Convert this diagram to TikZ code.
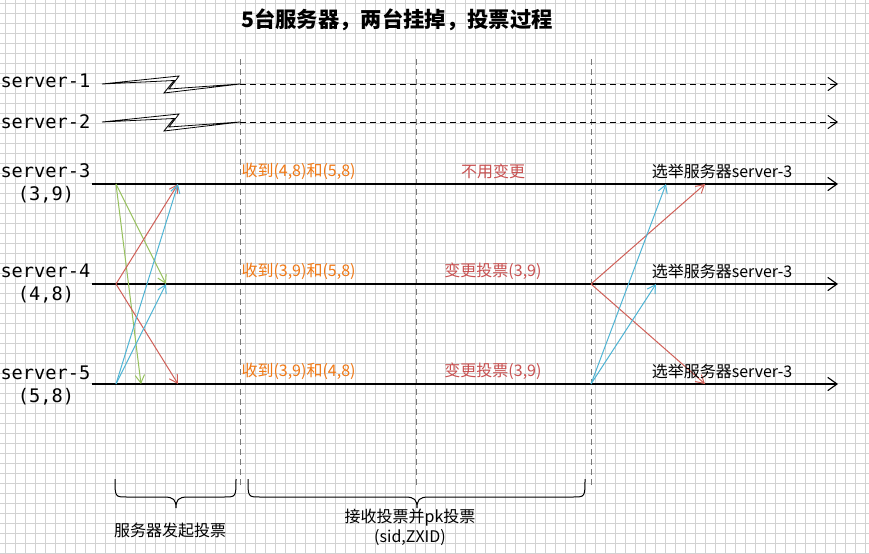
\documentclass[tikz,border=0pt]{standalone}
\usepackage{fontspec}
\setmainfont{Noto Sans CJK SC}
\newfontfamily\srvfont{DejaVu Sans Mono}
\usetikzlibrary{arrows.meta}

\definecolor{gridgray}{RGB}{210,210,210}
\definecolor{phasegray}{RGB}{120,120,120}
\definecolor{votegreen}{RGB}{151,193,93}
\definecolor{votered}{RGB}{208,96,88}
\definecolor{voteblue}{RGB}{78,180,212}
\definecolor{recvorange}{RGB}{240,120,20}
\definecolor{changered}{RGB}{200,80,80}

\tikzset{every picture/.style={line width=0.75pt}}

\begin{document}
\begin{tikzpicture}[x=0.75pt,y=0.75pt,yscale=-1,xscale=1,
  gridline/.style={draw=gridgray,line width=0.6pt},
  lifeline/.style={draw=black,line width=0.85pt,-{Straight Barb[length=7pt,width=10pt]}},
  deadline/.style={lifeline,line width=0.75pt,dash pattern=on 4.5pt off 3pt},
  phaseline/.style={draw=phasegray,dash pattern=on 4.5pt off 3pt},
  vote/.style={line width=0.75pt,-{Straight Barb[length=6pt,width=7pt]}},
  srvtext/.style={inner sep=0pt,font=\srvfont\fontsize{14}{16}\selectfont},
  recvtext/.style={inner sep=0pt,anchor=west,text=recvorange,font=\fontsize{12}{14}\selectfont},
  changetext/.style={inner sep=0pt,text=changered,font=\fontsize{12}{14}\selectfont},
  electtext/.style={inner sep=0pt,font=\fontsize{12}{14}\selectfont},
  phasetext/.style={inner sep=0pt,align=center,font=\fontsize{12}{15}\selectfont},
  bolt/.style={draw=black,fill=white,line width=0.6pt,line join=miter}]

%set diagram left start at 0, and has height of 554
\useasboundingbox (0,0) rectangle (869,554);
\fill[white] (0,0) rectangle (869,554);
\draw[gridline,shift={(5,3)}] (-10,-10) grid[step=10] (870,560);

% Title
\node[inner sep=0pt,font=\fontsize{16}{18}\selectfont\bfseries] (title) at (397,20) {5台服务器，两台挂掉，投票过程};

% lifeline ends
\coordinate (l1s) at (240,84);  \coordinate (l1e) at (838,84);
\coordinate (l2s) at (240,122); \coordinate (l2e) at (838,122);
\coordinate (l3s) at (92,184);  \coordinate (l3e) at (838,184);
\coordinate (l4s) at (92,284);  \coordinate (l4e) at (838,284);
\coordinate (l5s) at (92,384);  \coordinate (l5e) at (838,384);

% phase separators
\coordinate (p1t) at (240,59); \coordinate (p1b) at (240,486);
\coordinate (p2t) at (416,59); \coordinate (p2b) at (416,486);
\coordinate (p3t) at (591,59); \coordinate (p3b) at (591,486);
\draw[phaseline] (p1t) -- (p1b);
\draw[phaseline] (p2t) -- (p2b);
\draw[phaseline] (p3t) -- (p3b);

% server 1 and 2 go down
\draw[bolt] (102,84) -- (179,76) -- (169,89) -- (l1s) -- (164,93) -- (174,80.5) -- cycle;
\draw[bolt] (102,122) -- (179,114) -- (169,127) -- (l2s) -- (164,131) -- (174,118.5) -- cycle;
\draw[deadline] (l1s) -- (l1e);
\draw[deadline] (l2s) -- (l2e);

% running servers
\draw[lifeline] (l3s) -- (l3e);
\draw[lifeline] (l4s) -- (l4e);
\draw[lifeline] (l5s) -- (l5e);

% server names
\node[srvtext,anchor=west] (srv1) at (0,81) {server-1};
\node[srvtext,anchor=west] (srv2) at (0,122) {server-2};
\node[srvtext,anchor=west] (srv3) at (0,171) {server-3};
\node[srvtext] (id3) at (46,195) {(3,9)};
\node[srvtext,anchor=west] (srv4) at (0,271) {server-4};
\node[srvtext] (id4) at (46,295) {(4,8)};
\node[srvtext,anchor=west] (srv5) at (0,373) {server-5};
\node[srvtext] (id5) at (46,397) {(5,8)};

% first round of votes
\coordinate (v3) at (116,184);
\coordinate (v4) at (116,284);
\coordinate (v5) at (116,384);
\coordinate (g4) at (166,284); \coordinate (g5) at (141,384);
\coordinate (r3) at (178,184); \coordinate (r5) at (178,384);
\coordinate (b3) at (178,184); \coordinate (b4) at (166,284);
\draw[vote,votegreen] (v3) -- (g4);
\draw[vote,votegreen] (v3) -- (g5);
\draw[vote,votered] (v4) -- (r3);
\draw[vote,votered] (v4) -- (r5);
\draw[vote,voteblue] (v5) -- (b3);
\draw[vote,voteblue] (v5) -- (b4);

% second round of votes
\coordinate (w4) at (591,284);
\coordinate (w5) at (591,384);
\coordinate (rr3) at (705,184); \coordinate (rr5) at (705,384);
\coordinate (bb3) at (666,184); \coordinate (bb4) at (656,284);
\draw[vote,votered] (w4) -- (rr3);
\draw[vote,votered] (w4) -- (rr5);
\draw[vote,voteblue] (w5) -- (bb3);
\draw[vote,voteblue] (w5) -- (bb4);

% Text Node
\node[recvtext] (recv3) at (241,171) {收到(4,8)和(5,8)};
\node[recvtext] (recv4) at (241,271) {收到(3,9)和(5,8)};
\node[recvtext] (recv5) at (241,371) {收到(3,9)和(4,8)};
% Text Node
\node[changetext] (keep3) at (493,171) {不用变更};
\node[changetext] (chg4) at (493,271) {变更投票(3,9)};
\node[changetext] (chg5) at (493,371) {变更投票(3,9)};
% Text Node
\node[electtext] (elect3) at (722,171) {选举服务器server-3};
\node[electtext] (elect4) at (722,271) {选举服务器server-3};
\node[electtext] (elect5) at (722,371) {选举服务器server-3};

% braces
\draw (115,479) .. controls (115,497) and (115,497) .. (127,497) -- (164,497)
      .. controls (174,497) and (176,500) .. (176,508)
      .. controls (176,500) and (178,497) .. (188,497) -- (224,497)
      .. controls (236,497) and (236,497) .. (236,479);
\draw (248,479) .. controls (248,497) and (248,497) .. (260,497) -- (405,497)
      .. controls (415,497) and (417,500) .. (417,508)
      .. controls (417,500) and (419,497) .. (429,497) -- (573,497)
      .. controls (585,497) and (585,497) .. (585,479);

% Text Node
\node[phasetext] (start) at (170,530) {服务器发起投票};
\node[phasetext] (pk) at (410,527) {接收投票并pk投票\\(sid,ZXID)};

\end{tikzpicture}
\end{document}
